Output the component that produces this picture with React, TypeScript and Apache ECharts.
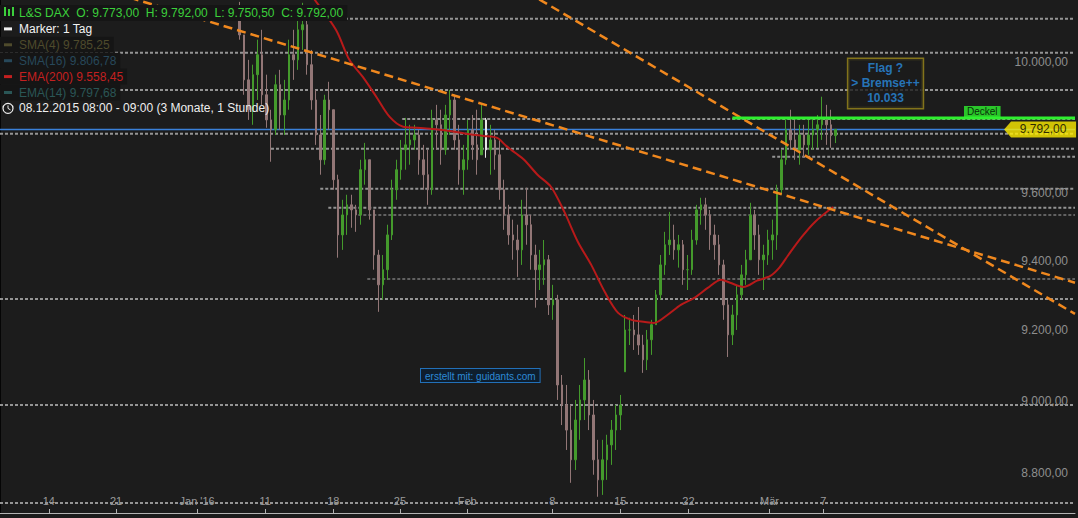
import React, { useEffect, useRef } from "react";
import * as echarts from "echarts";

const FONT = '"Liberation Sans", Arial, sans-serif';

// one slot = one third of a trading day
const firstSlot = 53;
const firstOpen = 10150;
const markerSlot = 108;

const highs = [
  10188, 10084, 10006, 9991, 10069, 10100, 9960, 9852, 9960, 9975,
  9944, 10069, 10100, 10131, 10185, 10131, 10037, 9913, 9836, 9898,
  9938, 9852, 9655, 9580, 9595, 9595, 9565, 9700, 9751, 9700,
  9550, 9432, 9417, 9506, 9640, 9700, 9760, 9827, 9806, 9806,
  9791, 9745, 9730, 9852, 9867, 9852, 9867, 9913, 9898, 9806,
  9745, 9821, 9836, 9852, 9867, 9827, 9806, 9791, 9760, 9640,
  9565, 9521, 9506, 9580, 9616, 9535, 9447, 9432, 9461, 9417,
  9330, 9301, 9072, 9044, 8988, 9002, 9044, 9120, 9086, 9002,
  8891, 8891, 8905, 8946, 8988, 9016, 9243, 9235, 9243, 9266,
  9186, 9200, 9229, 9315, 9417, 9485, 9544, 9506, 9476, 9461,
  9417, 9491, 9565, 9586, 9586, 9550, 9506, 9476, 9403, 9287,
  9272, 9330, 9388, 9432, 9571, 9550, 9506, 9447, 9491, 9521,
  9625, 9730, 9821, 9852, 9821, 9806, 9806, 9821, 9827, 9836,
  9892, 9867, 9852, 9792,
];

const lows = [
  10069, 9898, 9821, 9806, 9882, 9867, 9797, 9694, 9775, 9791,
  9775, 9852, 9944, 9975, 10037, 9960, 9852, 9745, 9655, 9685,
  9791, 9610, 9409, 9432, 9476, 9497, 9485, 9506, 9625, 9521,
  9374, 9252, 9287, 9344, 9461, 9580, 9640, 9670, 9685, 9730,
  9655, 9610, 9565, 9595, 9730, 9685, 9715, 9775, 9730, 9625,
  9595, 9670, 9700, 9655, 9715, 9706, 9655, 9670, 9580, 9491,
  9447, 9403, 9353, 9388, 9447, 9374, 9264, 9315, 9330, 9243,
  9229, 9002, 8932, 8863, 8773, 8808, 8891, 8946, 8918, 8795,
  8735, 8740, 8781, 8822, 8863, 8918, 9081, 9157, 9143, 9129,
  9078, 9086, 9129, 9215, 9287, 9359, 9417, 9403, 9380, 9330,
  9315, 9359, 9447, 9506, 9491, 9432, 9403, 9359, 9229, 9123,
  9157, 9200, 9287, 9330, 9403, 9432, 9359, 9315, 9388, 9403,
  9432, 9595, 9685, 9730, 9700, 9685, 9706, 9715, 9730, 9736,
  9760, 9745, 9736, 9750.5,
];

const closes = [
  10084, 9944, 9852, 9960, 10022, 9898, 9821, 9791, 9929, 9836,
  9882, 10022, 10006, 10100, 10116, 9991, 9882, 9775, 9700, 9882,
  9852, 9640, 9476, 9535, 9565, 9550, 9535, 9670, 9700, 9550,
  9417, 9330, 9374, 9476, 9610, 9670, 9730, 9745, 9760, 9775,
  9700, 9655, 9610, 9821, 9806, 9730, 9836, 9882, 9760, 9670,
  9700, 9791, 9745, 9700, 9821, 9730, 9760, 9715, 9610, 9535,
  9476, 9461, 9432, 9535, 9506, 9417, 9374, 9388, 9403, 9272,
  9287, 9044, 8988, 8918, 8836, 8946, 9002, 9058, 8960, 8836,
  8781, 8836, 8877, 8918, 8960, 8988, 9200, 9200, 9186, 9157,
  9115, 9172, 9215, 9301, 9388, 9447, 9461, 9432, 9447, 9374,
  9374, 9461, 9550, 9565, 9535, 9476, 9447, 9388, 9272, 9186,
  9243, 9301, 9359, 9403, 9535, 9476, 9403, 9417, 9461, 9476,
  9610, 9700, 9791, 9760, 9730, 9775, 9745, 9775, 9791, 9806,
  9821, 9806, 9773, 9792,
];

const emaSlots = [
  64, 70, 75, 78, 81, 84, 87, 90, 93, 96,
  100, 104, 108, 111, 113, 115, 117, 120, 123, 126,
  129, 132, 135, 138, 141, 144, 146, 149, 152, 155,
  158, 161, 163, 166, 169, 172, 174, 176, 179, 182, 186,
];
const emaValues = [
  10323, 10200, 10100, 10006, 9953, 9892, 9830, 9800, 9797, 9794,
  9788, 9779, 9772, 9766, 9742, 9721, 9700, 9655, 9619, 9544,
  9456, 9388, 9310, 9249, 9229, 9223, 9220, 9243, 9272, 9292,
  9321, 9345, 9336, 9324, 9342, 9356, 9380, 9417, 9470, 9515, 9558.45,
];

const tickSlots = [10.9, 25.9, 44.0, 59.2, 74.4, 89.3, 104.3, 123.3, 138.5, 153.7, 171.8, 183.8];
const tickLabels = ["14", "21", "Jan '16", "11", "18", "25", "Feb", "8", "15", "22", "Mär", "7"];
const priceTicks = [8800, 9000, 9200, 9400, 9600, 10000];

const levelPrices = [10135, 10028, 9913, 9824, 9779, 9733, 9709, 9613, 9556, 9535, 9347, 9289, 8988, 8718];
const levelStarts = [0, 0, 0, 89.8, 0, 60.5, 172.4, 71.5, 73.3, 80.0, 82.0, 0, 0, 0];
const faintLevels = [9535, 9347];

const trendA = [[20, 10240], [240, 9336]];
const trendB = [[115, 10241], [240, 9246]];
const deckelPrice = 9827;
const deckelStart = 163.5;
const lastPrice = 9792;
const flagPoint = [197.7, 9933];
const flagText = "Flag ?\n> Bremse++\n10.033";

const legendTexts = [
  "L&S DAX  O: 9.773,00  H: 9.792,00  L: 9.750,50  C: 9.792,00",
  "Marker: 1 Tag",
  "SMA(4) 9.785,25",
  "SMA(16) 9.806,78",
  "EMA(200) 9.558,45",
  "EMA(14) 9.797,68",
  "08.12.2015 08:00 - 09:00 (3 Monate, 1 Stunde)",
];
const legendColors = ["#3cd03c", "#f2f2f2", "#4f4b2c", "#27485a", "#c42020", "#2a5656", "#eeeeee"];

const X_MAX = 240;

function fmt(v: number): string {
  const [i, d] = v.toFixed(2).split(".");
  return i.replace(/\B(?=(\d{3})+(?!\d))/g, ".") + "," + d;
}

export default function App() {
  const ref = useRef<HTMLDivElement>(null);

  useEffect(() => {
    if (!ref.current) return;
    const chart = echarts.init(ref.current, null, { renderer: "svg" });

    const candles = closes.map((c, i) => {
      const prev = i === 0 ? firstOpen : closes[i - 1];
      const o = Math.min(Math.max(prev, lows[i]), highs[i]);
      const hi = Math.max(highs[i], c, o);
      const lo = Math.min(lows[i], c, o);
      const item: any = { value: [firstSlot + i + 0.5, o, c, lo, hi] };
      if (firstSlot + i === markerSlot) {
        item.itemStyle = { color: "#e8e8e8", color0: "#e8e8e8", borderColor: "#e8e8e8", borderColor0: "#e8e8e8" };
      }
      return item;
    });

    const levelSeries = levelPrices.map((p, i) => ({
      type: "line",
      silent: true,
      symbol: "none",
      data: [[levelStarts[i], p], [X_MAX, p]],
      lineStyle: {
        color: faintLevels.includes(p) ? "#616161" : "#949494",
        width: 2,
        type: [3, 2],
      },
      z: 1,
    }));

    const legendGraphics: any[] = [];
    legendTexts.forEach((t, i) => {
      const y = 13 + 15.9 * i;
      legendGraphics.push({
        type: "text",
        x: 0,
        y,
        z: 100,
        style: {
          text: t,
          fill: legendColors[i],
          font: `12px ${FONT}`,
          textVerticalAlign: "middle",
          backgroundColor: i === 1 || i === 6 ? "transparent" : "#151515",
          padding: [2, 4, 2, 19],
        },
      });
      if (i >= 1 && i <= 5) {
        legendGraphics.push({
          type: "rect",
          z: 101,
          shape: { x: 4, y: y - 1.5, width: 8, height: 3 },
          style: { fill: legendColors[i] },
        });
      }
    });
    [4, 8, 12].forEach((x, k) => {
      legendGraphics.push({
        type: "rect",
        z: 101,
        shape: { x, y: 7 + (k % 2) * 2, width: 2, height: 9 - (k % 2) * 2 },
        style: { fill: "#3cd03c" },
      });
    });
    const cy = 13 + 15.9 * 6;
    legendGraphics.push(
      { type: "circle", z: 101, shape: { cx: 8, cy, r: 5 }, style: { fill: "none", stroke: "#eeeeee", lineWidth: 1.2 } },
      { type: "line", z: 101, shape: { x1: 8, y1: cy - 3, x2: 8, y2: cy }, style: { stroke: "#eeeeee", lineWidth: 1 } },
      { type: "line", z: 101, shape: { x1: 8, y1: cy, x2: 10.5, y2: cy + 1.5 }, style: { stroke: "#eeeeee", lineWidth: 1 } }
    );

    const option: any = {
      animation: false,
      backgroundColor: "#1c1c1c",
      grid: { left: 0, right: 3, top: 0, bottom: 5, containLabel: false },
      xAxis: {
        type: "value",
        min: 0,
        max: X_MAX,
        axisLine: { show: true, lineStyle: { color: "#b4b4b4", width: 1 } },
        axisTick: { show: true, inside: true, length: 4, customValues: tickSlots, lineStyle: { color: "#b4b4b4" } },
        axisLabel: {
          inside: true,
          margin: 7,
          customValues: tickSlots,
          color: "#9a9a9a",
          fontSize: 11,
          fontFamily: FONT,
          formatter: (v: number) => {
            const i = tickSlots.findIndex((t) => Math.abs(t - v) < 1e-6);
            return i >= 0 ? tickLabels[i] : "";
          },
        },
        splitLine: { show: false },
      },
      yAxis: {
        type: "log",
        logBase: 10,
        min: 8691,
        max: 10194,
        position: "right",
        axisLine: { show: true, lineStyle: { color: "#050505", width: 2 } },
        axisTick: { show: true, inside: true, length: 4, customValues: priceTicks, lineStyle: { color: "#9a9a9a" } },
        axisLabel: {
          inside: true,
          margin: 7,
          customValues: priceTicks,
          color: "#8e8e8e",
          fontSize: 12,
          fontFamily: FONT,
          formatter: (v: number) => fmt(v),
        },
        splitLine: { show: false },
      },
      series: [
        ...levelSeries,
        {
          type: "line",
          name: "last",
          silent: true,
          symbol: "none",
          data: [[0, lastPrice], [X_MAX, lastPrice]],
          lineStyle: { color: "#3a80d8", width: 1.5 },
          z: 2,
        },
        {
          type: "candlestick",
          name: "L&S DAX",
          dimensions: ["slot", "open", "close", "lowest", "highest"],
          encode: { x: "slot", y: ["open", "close", "lowest", "highest"] },
          barWidth: 2,
          data: candles,
          itemStyle: {
            color: "#449a2c",
            color0: "#927676",
            borderColor: "#449a2c",
            borderColor0: "#927676",
            borderWidth: 1,
          },
          z: 3,
        },
        {
          type: "line",
          name: "EMA(200)",
          symbol: "none",
          smooth: 0.3,
          data: emaSlots.map((s, i) => [s, emaValues[i]]),
          lineStyle: { color: "#b81a1a", width: 2 },
          z: 4,
        },
        {
          type: "line",
          symbol: "none",
          data: trendA,
          lineStyle: { color: "#f0881e", width: 2.5, type: [9, 5] },
          z: 5,
        },
        {
          type: "line",
          symbol: "none",
          data: trendB,
          lineStyle: { color: "#f0881e", width: 2.5, type: [9, 5] },
          z: 5,
        },
        {
          type: "line",
          symbol: "none",
          data: [[deckelStart, deckelPrice], [X_MAX, deckelPrice]],
          lineStyle: { color: "#2ef02e", width: 3 },
          z: 6,
        },
        {
          type: "scatter",
          silent: true,
          z: 7,
          data: [
            {
              value: [219.3, deckelPrice],
              symbolSize: 0,
              label: {
                show: true,
                position: "top",
                distance: 1,
                formatter: "Deckel",
                color: "#000",
                fontSize: 10,
                fontFamily: FONT,
                lineHeight: 10,
                backgroundColor: "#2ef02e",
                padding: [1, 3, 0, 3],
              },
            },
            {
              value: [232.2, lastPrice],
              symbol: "path://M0,8 L7,0 L72,0 L72,16 L7,16 Z",
              symbolSize: [72, 16],
              itemStyle: { color: "#ffee00" },
              label: {
                show: true,
                position: "inside",
                offset: [3, 0],
                formatter: fmt(lastPrice),
                color: "#000",
                fontSize: 12,
                fontFamily: FONT,
              },
            },
            {
              value: flagPoint,
              symbolSize: 0,
              label: {
                show: true,
                position: "inside",
                formatter: flagText,
                align: "center",
                color: "#2a8de0",
                fontSize: 12,
                fontWeight: "bold",
                fontFamily: FONT,
                lineHeight: 15,
                borderColor: "#9c8a1c",
                borderWidth: 1.5,
                backgroundColor: "#1c1c1c",
                padding: [2, 3, 2, 3],
              },
            },
          ],
        },
      ],
      graphic: [
        ...legendGraphics,
        {
          type: "text",
          left: 420,
          top: 368,
          z: 100,
          style: {
            text: "erstellt mit: guidants.com",
            fill: "#2d8ad6",
            font: `10px ${FONT}`,
            backgroundColor: "#0e1e2e",
            borderColor: "#2270b8",
            borderWidth: 1,
            padding: [2, 4, 1, 4],
          },
        },
      ],
    };

    chart.setOption(option);
    return () => chart.dispose();
  }, []);

  return (
    <div
      ref={ref}
      style={{ position: "absolute", left: 0, top: 0, width: 1078, height: 518, background: "#1c1c1c" }}
    />
  );
}
